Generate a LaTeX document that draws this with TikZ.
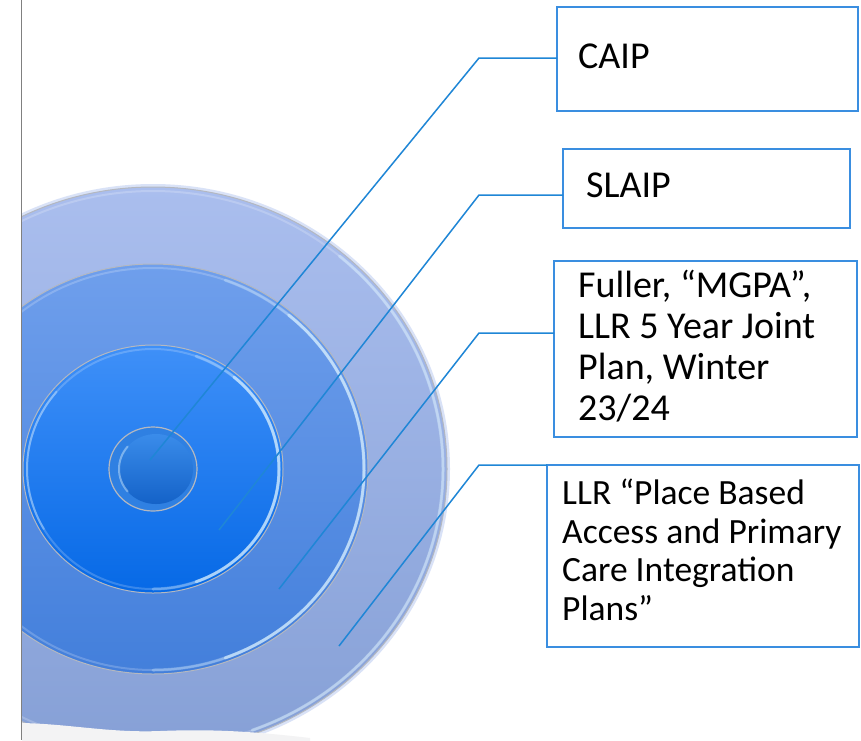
\documentclass[tikz,border=0pt]{standalone}
\usepackage{fontspec}
\setmainfont{Carlito}
\definecolor{ringAt}{HTML}{AABEEE}
\definecolor{ringAb}{HTML}{86A0D6}
\definecolor{ringBt}{HTML}{6F9FEC}
\definecolor{ringBb}{HTML}{437FDB}
\definecolor{ringCt}{HTML}{3F90F8}
\definecolor{ringCb}{HTML}{0669E6}
\definecolor{coreOut}{HTML}{2F80E2}
\definecolor{coreT}{HTML}{3A8CEA}
\definecolor{coreB}{HTML}{1462C8}
\definecolor{rimgray}{HTML}{B4B8C0}
\definecolor{leadblue}{HTML}{1F86D6}
\definecolor{boxblue}{HTML}{3A8EE0}
\definecolor{wavegray}{HTML}{F3F3F4}
\definecolor{glowcol}{HTML}{D8F0FF}
\begin{document}
\begin{tikzpicture}[x=1pt,y=-1pt,
  leader/.style={draw=leadblue, line width=1.5pt},
  boxnode/.style={draw=boxblue, line width=1.8pt, anchor=north west, inner sep=0pt, outer sep=0pt},
  lbl/.style={anchor=base west, inner sep=0pt, align=left, text=black},
  rim/.style={draw=rimgray, line width=1pt},
  glow/.style={draw=glowcol, line width=3pt, opacity=0.6, line cap=round},
  softglow/.style={draw=white, line width=2pt, opacity=0.2}]
\useasboundingbox (0,0) rectangle (861,740);
\fill[white] (0,0) rectangle (861,740);
\coordinate (C) at (153,469);

\begin{scope}
\clip (22,0) rectangle (861,740);
% outer ring
\draw[draw=ringAt!45!white, line width=4pt] (C) ellipse [x radius=295, y radius=283];
\shadedraw[top color=ringAt, bottom color=ringAb, rim] (C) ellipse [x radius=294, y radius=282];
\draw[softglow] (C) ellipse [x radius=290, y radius=278];
\draw[glow, opacity=0.45] (C) ++(-50:290 and 278) arc[start angle=-50, end angle=70, x radius=290, y radius=278];
% second ring
\shadedraw[top color=ringBt, bottom color=ringBb, rim] (C) ellipse [x radius=215, y radius=205];
\draw[softglow] (C) ellipse [x radius=211, y radius=201];
\draw[glow] (C) ++(-50:211 and 201) arc[start angle=-50, end angle=70, x radius=211, y radius=201];
\draw[glow, opacity=0.3] (C) ++(-70:211 and 201) arc[start angle=-70, end angle=90, x radius=211, y radius=201];
% third ring
\shadedraw[top color=ringCt, bottom color=ringCb, rim] (C) ellipse [x radius=130, y radius=124];
\draw[softglow] (C) ellipse [x radius=126, y radius=120];
\draw[glow] (C) ++(-50:126 and 120) arc[start angle=-50, end angle=70, x radius=126, y radius=120];
\draw[glow, opacity=0.3] (C) ++(-70:126 and 120) arc[start angle=-70, end angle=90, x radius=126, y radius=120];
\draw[draw=glowcol, line width=2pt, opacity=0.35, line cap=round] (C) ++(150:126 and 120) arc[start angle=150, end angle=220, x radius=126, y radius=120];
% core
\filldraw[fill=coreOut, rim, line width=1.2pt] (C) ellipse [x radius=44, y radius=42];
\shade[top color=coreT, bottom color=coreB] (156,469) ellipse [x radius=37, y radius=35];
\draw[draw=glowcol, line width=2pt, opacity=0.45, line cap=round] (156,469) ++(140:37 and 35) arc[start angle=140, end angle=220, x radius=37, y radius=35];
% bottom wave
\fill[wavegray] (22,741) -- (22,723) .. controls (70,724) and (110,733) .. (160,731)
  .. controls (210,729) and (250,731) .. (310,738) -- (310,741) -- cycle;
\end{scope}

% left border line
\draw[draw=gray, line width=1.3pt] (21.5,0) -- (21.5,740);

% boxes
\node[boxnode, minimum width=301pt, minimum height=104pt] (b1) at (557,7) {};
\node[boxnode, minimum width=287pt, minimum height=79pt] (b2) at (563,149) {};
\node[boxnode, minimum width=303pt, minimum height=176pt] (b3) at (554,261) {};
\node[boxnode, minimum width=312pt, minimum height=182pt] (b4) at (547,465) {};

% texts (base anchor = baseline of the last line)
\node[lbl, font=\fontsize{38}{41}\selectfont] (t1) at (578,68) {CAIP};
\node[lbl, font=\fontsize{38}{41}\selectfont] (t2) at (586,197) {SLAIP};
\node[lbl, font=\fontsize{38}{41}\selectfont] (t3) at (578,420) {Fuller, “MGPA”,\\LLR 5 Year Joint\\Plan, Winter\\23/24};
\node[lbl, font=\fontsize{35.5}{38.5}\selectfont] (t4) at (562,620) {LLR “Place Based\\Access and Primary\\Care Integration\\Plans”};

% leader lines
\coordinate (p1) at (150,460); \coordinate (k1) at (479,58);
\coordinate (p2) at (219,530); \coordinate (k2) at (479,195);
\coordinate (p3) at (279,589); \coordinate (k3) at (479,333);
\coordinate (p4) at (339,646); \coordinate (k4) at (479,465);
\draw[leader] (p1) -- (k1) -- (k1 -| b1.west);
\draw[leader] (p2) -- (k2) -- (k2 -| b2.west);
\draw[leader] (p3) -- (k3) -- (k3 -| b3.west);
\draw[leader] (p4) -- (k4) -- (b4.north west);
\end{tikzpicture}
\end{document}
